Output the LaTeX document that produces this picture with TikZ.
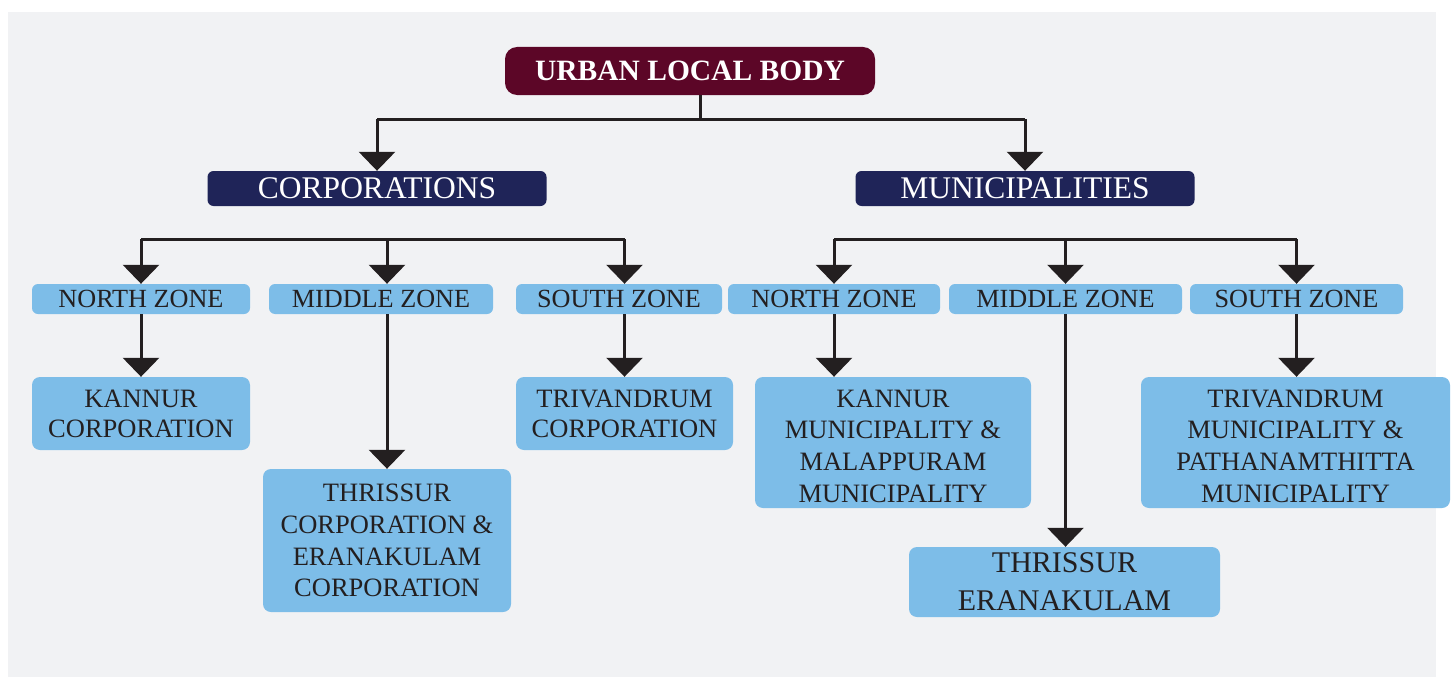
\documentclass[tikz,border=0pt]{standalone}
\usepackage{fontspec}
\setmainfont{Liberation Serif}
\usetikzlibrary{arrows.meta}
\definecolor{bgpanel}{HTML}{F1F2F4}
\definecolor{maroon}{HTML}{5C0627}
\definecolor{navy}{HTML}{1F2458}
\definecolor{lightblue}{HTML}{7DBDE8}
\definecolor{ink}{HTML}{231F20}
\tikzset{
  topbox/.style={fill=maroon, rounded corners=12pt, inner sep=0pt, text=white,
    font=\fontsize{29.5}{32}\selectfont\bfseries},
  catbox/.style={fill=navy, rounded corners=6pt, inner sep=0pt, text=white,
    minimum width=339pt, minimum height=35pt, font=\fontsize{31.5}{34}\selectfont},
  zonebox/.style={fill=lightblue, rounded corners=6pt, inner sep=0pt, text=ink,
    minimum height=30pt, font=\fontsize{26.2}{28}\selectfont},
  leafbox/.style={fill=lightblue, rounded corners=8pt, inner sep=0pt, text=ink,
    align=center, font=\fontsize{26.5}{31.8}\selectfont},
  conn/.style={draw=ink, line width=3pt},
  arr/.style={conn, -{Triangle[width=36pt,length=19pt]}},
}
\begin{document}
\begin{tikzpicture}[x=1pt,y=-1pt]
\useasboundingbox (0,0) rectangle (1451,677);
\fill[white] (0,0) rectangle (1451,677);
\fill[bgpanel] (8,12) rectangle (1436,677);

% top level
\node[topbox, minimum width=370pt, minimum height=48pt] (top) at (690,71) {URBAN LOCAL BODY};
\node[catbox] (corp) at (377,188.5) {CORPORATIONS};
\node[catbox] (mun) at (1025,188.5) {MUNICIPALITIES};

% zones
\node[zonebox, minimum width=218pt] (cnz) at (141,299) {NORTH ZONE};
\node[zonebox, minimum width=224pt] (cmz) at (381,299) {MIDDLE ZONE};
\node[zonebox, minimum width=206pt] (csz) at (619,299) {SOUTH ZONE};
\node[zonebox, minimum width=212pt] (mnz) at (834,299) {NORTH ZONE};
\node[zonebox, minimum width=233pt] (mmz) at (1065.5,299) {MIDDLE ZONE};
\node[zonebox, minimum width=213pt] (msz) at (1296.5,299) {SOUTH ZONE};

% leaves
\node[leafbox, minimum width=218pt, minimum height=73pt, font=\fontsize{26.5}{30}\selectfont] (kc) at (141,413.5) {KANNUR\\CORPORATION};
\node[leafbox, minimum width=248pt, minimum height=143pt] (tc) at (387,540.5) {THRISSUR\\CORPORATION \&\\ERANAKULAM\\CORPORATION};
\node[leafbox, minimum width=217pt, minimum height=73pt, font=\fontsize{26.5}{30}\selectfont] (trc) at (624.5,413.5) {TRIVANDRUM\\CORPORATION};
\node[leafbox, minimum width=276pt, minimum height=131pt] (km) at (893,442.5) {\rule{0pt}{25pt}KANNUR\\MUNICIPALITY \&\\MALAPPURAM\\MUNICIPALITY};
\node[leafbox, minimum width=311pt, minimum height=70pt, font=\fontsize{30}{38}\selectfont] (te) at (1064.5,582) {THRISSUR\\ERANAKULAM};
\node[leafbox, minimum width=309pt, minimum height=131pt] (tm) at (1295.5,442.5) {\rule{0pt}{25pt}TRIVANDRUM\\MUNICIPALITY \&\\PATHANAMTHITTA\\MUNICIPALITY};

% connectors from top
\coordinate (tj) at (700,119);
\draw[conn] (top.south -| tj) -- (tj);
\draw[conn] (corp.north |- tj) -- (mun.north |- tj);
\draw[arr] (corp.north |- tj) -- (corp.north);
\draw[arr] (mun.north |- tj) -- (mun.north);

% corporation zones
\coordinate (cb) at (0,239);
\draw[conn] (kc.north |- cb) -- (trc.north |- cb);
\draw[arr] (kc.north |- cb) -- (kc.north |- cnz.north);
\draw[arr] (tc.north |- cb) -- (tc.north |- cmz.north);
\draw[arr] (trc.north |- cb) -- (trc.north |- csz.north);
\draw[arr] (kc.north |- cnz.south) -- (kc.north);
\draw[arr] (tc.north |- cmz.south) -- (tc.north);
\draw[arr] (trc.north |- csz.south) -- (trc.north);

% municipality zones
\draw[conn] (mnz.north |- cb) -- (msz.north |- cb);
\draw[arr] (mnz.north |- cb) -- (mnz.north);
\draw[arr] (mmz.north |- cb) -- (mmz.north);
\draw[arr] (msz.north |- cb) -- (msz.north);
\draw[arr] (mnz.south) -- (mnz.south |- km.north);
\draw[arr] (mmz.south) -- (mmz.south |- te.north);
\draw[arr] (msz.south) -- (msz.south |- tm.north);
\end{tikzpicture}
\end{document}
